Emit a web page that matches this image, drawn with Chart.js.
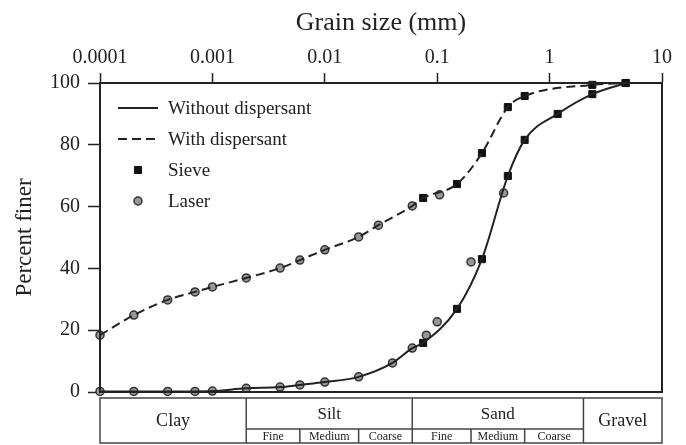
<!DOCTYPE html>
<html>
<head>
<meta charset="utf-8">
<script src="https://cdn.jsdelivr.net/npm/chart.js@4.4.1/dist/chart.umd.min.js"></script>
<style>
  html, body { margin: 0; padding: 0; background: #fff; }
  #wrap { width: 686px; height: 445px; position: relative; }
</style>
</head>
<body>
<div id="wrap"><canvas id="grainChart"></canvas></div>
<script>
// grain size ticks (mm)
const xTickValues = [0.0001, 0.001, 0.01, 0.1, 1, 10];
const xTickLabels = ['0.0001', '0.001', '0.01', '0.1', '1', '10'];
const yTickValues = [0, 20, 40, 60, 80, 100];

// without dispersant
const withoutSieveX = [0.075, 0.15, 0.25, 0.425, 0.6, 1.18, 2.4, 4.75];
const withoutSieveY = [15.9, 26.9, 43.0, 69.9, 81.6, 90.0, 96.4, 100];
const withoutLaserX = [0.0001, 0.0002, 0.0004, 0.0007, 0.001, 0.002, 0.004, 0.006, 0.01, 0.02, 0.04, 0.06, 0.08, 0.1, 0.2, 0.39];
const withoutLaserY = [0.2, 0.2, 0.2, 0.2, 0.3, 1.2, 1.6, 2.3, 3.2, 4.9, 9.4, 14.2, 18.4, 22.7, 42.1, 64.4];

// with dispersant
const withSieveX = [0.075, 0.15, 0.25, 0.425, 0.6, 2.4, 4.75];
const withSieveY = [62.8, 67.3, 77.3, 92.2, 95.8, 99.4, 100];
const withLaserX = [0.0001, 0.0002, 0.0004, 0.0007, 0.001, 0.002, 0.004, 0.006, 0.01, 0.02, 0.03, 0.06, 0.105];
const withLaserY = [18.4, 24.9, 29.8, 32.4, 34.0, 36.9, 40.1, 42.7, 46.0, 50.2, 54.0, 60.2, 63.8];

const legendLabels = ['Without dispersant', 'With dispersant', 'Sieve', 'Laser'];

// soil classification strip under the plot
const classNames = ['Clay', 'Silt', 'Sand', 'Gravel'];
const classBounds = [0.002, 0.06, 2];
const subNames = ['Fine', 'Medium', 'Coarse'];
const siltBounds = [0.002, 0.006, 0.02, 0.06];
const sandBounds = [0.06, 0.2, 0.6, 2];

const serif = "'Liberation Serif', 'DejaVu Serif', serif";
const ink = '#222';

function toPoints(xs, ys) {
  return xs.map((x, i) => ({ x: x, y: ys[i] }));
}

// curve: laser fines below the sieve range, then the sieve points
function curvePoints(laserX, laserY, sieveX, sieveY) {
  const minSieve = Math.min(...sieveX);
  const pts = toPoints(laserX, laserY).filter(p => p.x < minSieve);
  return pts.concat(toPoints(sieveX, sieveY));
}

const lineStyle = {
  showLine: true,
  pointRadius: 0,
  borderColor: ink,
  borderWidth: 2,
  cubicInterpolationMode: 'monotone',
  fill: false,
  clip: false,
};

const sieveStyle = {
  showLine: false,
  pointStyle: 'rect',
  pointRadius: 5,
  backgroundColor: '#111',
  borderColor: '#111',
  borderWidth: 1,
  clip: false,
};

const laserStyle = {
  showLine: false,
  pointStyle: 'circle',
  pointRadius: 4,
  backgroundColor: '#979797',
  borderColor: '#333',
  borderWidth: 1.5,
  clip: false,
};

const legendPlugin = {
  id: 'insideLegend',
  afterDraw(chart) {
    const ctx = chart.ctx;
    const x0 = 118, x1 = 158, tx = 168;
    const rows = [108, 139, 170, 201];
    const mx = (x0 + x1) / 2;
    ctx.save();
    ctx.strokeStyle = ink;
    ctx.lineWidth = 2;
    // solid line
    ctx.beginPath(); ctx.moveTo(x0, rows[0]); ctx.lineTo(x1, rows[0]); ctx.stroke();
    // dashed line
    ctx.setLineDash([9, 5]);
    ctx.beginPath(); ctx.moveTo(x0, rows[1]); ctx.lineTo(x1 + 2, rows[1]); ctx.stroke();
    ctx.setLineDash([]);
    // markers
    ctx.fillStyle = sieveStyle.backgroundColor;
    ctx.strokeStyle = sieveStyle.borderColor;
    ctx.lineWidth = sieveStyle.borderWidth;
    Chart.helpers.drawPoint(ctx, { pointStyle: 'rect', radius: sieveStyle.pointRadius, rotation: 0, borderWidth: 1 }, mx, rows[2]);
    ctx.fillStyle = laserStyle.backgroundColor;
    ctx.strokeStyle = laserStyle.borderColor;
    ctx.lineWidth = laserStyle.borderWidth;
    Chart.helpers.drawPoint(ctx, { pointStyle: 'circle', radius: laserStyle.pointRadius, rotation: 0, borderWidth: 1.5 }, mx, rows[3]);
    // text
    ctx.font = '19px ' + serif;
    ctx.fillStyle = ink;
    ctx.textBaseline = 'middle';
    legendLabels.forEach((t, i) => ctx.fillText(t, tx, rows[i] + 1));
    ctx.restore();
  }
};

const framePlugin = {
  id: 'frameAndTable',
  afterDraw(chart) {
    const ctx = chart.ctx;
    const a = chart.chartArea;
    const xs = chart.scales.x;
    ctx.save();
    ctx.strokeStyle = ink;
    ctx.lineWidth = 2;
    ctx.strokeRect(a.left, a.top, a.right - a.left, a.bottom - a.top);

    // classification table
    const top = 398, mid = 429, bot = 443;
    const px = v => xs.getPixelForValue(v);
    ctx.strokeStyle = '#444';
    ctx.lineWidth = 1.5;
    ctx.strokeRect(a.left, top, a.right - a.left, bot - top);
    ctx.beginPath();
    classBounds.forEach(v => { ctx.moveTo(px(v), top); ctx.lineTo(px(v), bot); });
    ctx.moveTo(px(classBounds[0]), mid); ctx.lineTo(px(classBounds[2]), mid);
    [siltBounds, sandBounds].forEach(b => {
      for (let i = 1; i < b.length - 1; i++) { ctx.moveTo(px(b[i]), mid); ctx.lineTo(px(b[i]), bot); }
    });
    ctx.stroke();

    ctx.fillStyle = ink;
    ctx.textAlign = 'center';
    ctx.textBaseline = 'middle';
    const edges = [a.left].concat(classBounds.map(px), [a.right]);
    classNames.forEach((name, i) => {
      const cx = (edges[i] + edges[i + 1]) / 2;
      const sub = (i === 1 || i === 2);
      ctx.font = (sub ? '17px ' : '18px ') + serif;
      ctx.fillText(name, cx, sub ? (top + mid) / 2 + 1 : (top + bot) / 2 + 1);
    });
    ctx.font = '12px ' + serif;
    [siltBounds, sandBounds].forEach(b => {
      for (let i = 0; i < subNames.length; i++) {
        const cx = (px(b[i]) + px(b[i + 1])) / 2;
        ctx.fillText(subNames[i], cx, (mid + bot) / 2 + 1);
      }
    });
    ctx.restore();
  }
};

new Chart(document.getElementById('grainChart'), {
  type: 'scatter',
  data: {
    datasets: [
      Object.assign({ label: legendLabels[0], data: curvePoints(withoutLaserX, withoutLaserY, withoutSieveX, withoutSieveY) }, lineStyle),
      Object.assign({ label: legendLabels[1], data: curvePoints(withLaserX, withLaserY, withSieveX, withSieveY), borderDash: [9, 5] }, lineStyle),
      Object.assign({ label: 'Sieve (without)', data: toPoints(withoutSieveX, withoutSieveY) }, sieveStyle),
      Object.assign({ label: 'Sieve (with)', data: toPoints(withSieveX, withSieveY) }, sieveStyle),
      Object.assign({ label: 'Laser (without)', data: toPoints(withoutLaserX, withoutLaserY) }, laserStyle),
      Object.assign({ label: 'Laser (with)', data: toPoints(withLaserX, withLaserY) }, laserStyle),
    ]
  },
  options: {
    responsive: true,
    maintainAspectRatio: false,
    animation: false,
    layout: { padding: { left: 0, right: 24, top: 0, bottom: 53 } },
    plugins: { legend: { display: false }, tooltip: { enabled: false } },
    scales: {
      x: {
        type: 'logarithmic',
        position: 'top',
        min: 0.0001,
        max: 10,
        afterBuildTicks: axis => { axis.ticks = xTickValues.map(v => ({ value: v })); },
        afterFit: axis => { axis.height = 83; },
        ticks: {
          color: ink,
          font: { family: serif, size: 20 },
          padding: 3,
          maxRotation: 0,
          callback: (v, i) => xTickLabels[i],
        },
        grid: { drawOnChartArea: false, drawTicks: true, tickLength: 10, tickColor: ink, tickWidth: 1.5 },
        border: { display: true, color: ink, width: 2 },
        title: { display: true, text: 'Grain size (mm)', color: ink, font: { family: serif, size: 26 }, padding: { top: 8, bottom: 0 } },
      },
      y: {
        min: 0,
        max: 100,
        afterBuildTicks: axis => { axis.ticks = yTickValues.map(v => ({ value: v })); },
        afterFit: axis => { axis.width = 100; },
        ticks: { color: ink, font: { family: serif, size: 20 }, padding: 8 },
        grid: { drawOnChartArea: false, drawTicks: true, tickLength: 12, tickColor: ink, tickWidth: 1.5 },
        border: { display: true, color: ink, width: 2 },
        title: { display: true, text: 'Percent finer', color: ink, font: { family: serif, size: 23 }, padding: { top: 11, bottom: 0 } },
      }
    }
  },
  plugins: [legendPlugin, framePlugin]
});
</script>
</body>
</html>
